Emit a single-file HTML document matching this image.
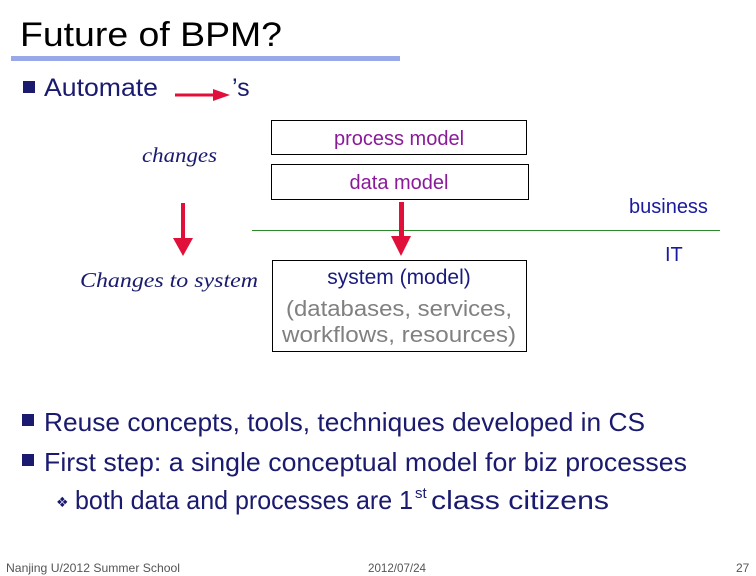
<!DOCTYPE html>
<html><head><meta charset="utf-8"><style>html,body{margin:0;padding:0;background:#fff}svg{display:block}</style></head>
<body>
<svg width="756" height="576" viewBox="0 0 756 576" xmlns="http://www.w3.org/2000/svg">
<text x="20" y="46" font-family="'Liberation Sans',sans-serif" font-size="34" fill="#000" textLength="262" lengthAdjust="spacingAndGlyphs">Future of BPM?</text>
<rect x="11" y="56" width="389" height="5" fill="#98a8e8"/>
<rect x="23" y="81" width="12" height="12" fill="#1a1a6e"/>
<text x="44" y="96" font-family="'Liberation Sans',sans-serif" font-size="25" fill="#1a1a6e" textLength="114" lengthAdjust="spacingAndGlyphs">Automate</text>
<line x1="175" y1="95" x2="215" y2="95" stroke="#e0103a" stroke-width="3"/>
<polygon points="213,89 230,95 213,101" fill="#e0103a"/>
<text x="232" y="96" font-family="'Liberation Sans',sans-serif" font-size="25" fill="#1a1a6e">’s</text>
<text x="142" y="162" font-family="'Liberation Serif',serif" font-style="italic" font-size="21" fill="#1a1a6e" textLength="75" lengthAdjust="spacingAndGlyphs">changes</text>
<text x="80" y="287" font-family="'Liberation Serif',serif" font-style="italic" font-size="21" fill="#1a1a6e" textLength="178" lengthAdjust="spacingAndGlyphs">Changes to system</text>
<rect x="181" y="203" width="4" height="38" fill="#e0103a"/>
<polygon points="173,238 193,238 183,256" fill="#e0103a"/>
<rect x="271.5" y="120.5" width="255" height="34" fill="#fff" stroke="#000"/>
<text x="399" y="145" text-anchor="middle" font-family="'Liberation Sans',sans-serif" font-size="20" fill="#8a1a9a">process model</text>
<rect x="271.5" y="164.5" width="257" height="35" fill="#fff" stroke="#000"/>
<text x="399" y="189" text-anchor="middle" font-family="'Liberation Sans',sans-serif" font-size="20" fill="#8a1a9a">data model</text>
<line x1="252" y1="230.5" x2="720" y2="230.5" stroke="#2a8a2a" stroke-width="1"/>
<rect x="399" y="202" width="5" height="36" fill="#e0103a"/>
<polygon points="391,236 411,236 401,256" fill="#e0103a"/>
<rect x="272.5" y="260.5" width="254" height="91" fill="#fff" stroke="#000"/>
<text x="399" y="284" text-anchor="middle" font-family="'Liberation Sans',sans-serif" font-size="21" fill="#1a1a7e">system (model)</text>
<text x="399" y="316" text-anchor="middle" font-family="'Liberation Sans',sans-serif" font-size="22" fill="#808080" textLength="226" lengthAdjust="spacingAndGlyphs">(databases, services,</text>
<text x="399" y="342" text-anchor="middle" font-family="'Liberation Sans',sans-serif" font-size="22" fill="#808080" textLength="234" lengthAdjust="spacingAndGlyphs">workflows, resources)</text>
<text x="629" y="213" font-family="'Liberation Sans',sans-serif" font-size="20" fill="#1a1a9e">business</text>
<text x="665" y="261" font-family="'Liberation Sans',sans-serif" font-size="20" fill="#1a1a9e">IT</text>
<rect x="22" y="414" width="12" height="12" fill="#1a1a6e"/>
<text x="44" y="431" font-family="'Liberation Sans Narrow','Liberation Sans',sans-serif" font-size="26" fill="#1a1a6e" textLength="601" lengthAdjust="spacingAndGlyphs">Reuse concepts, tools, techniques developed in CS</text>
<rect x="22" y="454" width="12" height="12" fill="#1a1a6e"/>
<text x="44" y="471" font-family="'Liberation Sans Narrow','Liberation Sans',sans-serif" font-size="26" fill="#1a1a6e" textLength="643" lengthAdjust="spacingAndGlyphs">First step: a single conceptual model for biz processes</text>
<text x="56" y="507" font-family="'DejaVu Sans',sans-serif" font-size="14" fill="#1a1a6e">❖</text>
<text x="75" y="509" font-family="'Liberation Sans Narrow','Liberation Sans',sans-serif" font-size="26" fill="#1a1a6e" textLength="338" lengthAdjust="spacingAndGlyphs">both data and processes are 1</text>
<text x="415" y="498" font-family="'Liberation Sans Narrow','Liberation Sans',sans-serif" font-size="15" fill="#1a1a6e">st</text>
<text x="431" y="509" font-family="'Liberation Sans Narrow','Liberation Sans',sans-serif" font-size="26" fill="#1a1a6e" textLength="178" lengthAdjust="spacingAndGlyphs">class citizens</text>
<text x="6" y="572" font-family="'Liberation Sans Narrow','Liberation Sans',sans-serif" font-size="12" fill="#555" textLength="174" lengthAdjust="spacingAndGlyphs">Nanjing U/2012 Summer School</text>
<text x="368" y="572" font-family="'Liberation Sans Narrow','Liberation Sans',sans-serif" font-size="12" fill="#555" textLength="58" lengthAdjust="spacingAndGlyphs">2012/07/24</text>
<text x="736" y="572" font-family="'Liberation Sans Narrow','Liberation Sans',sans-serif" font-size="12" fill="#555">27</text>
</svg>
</body></html>
